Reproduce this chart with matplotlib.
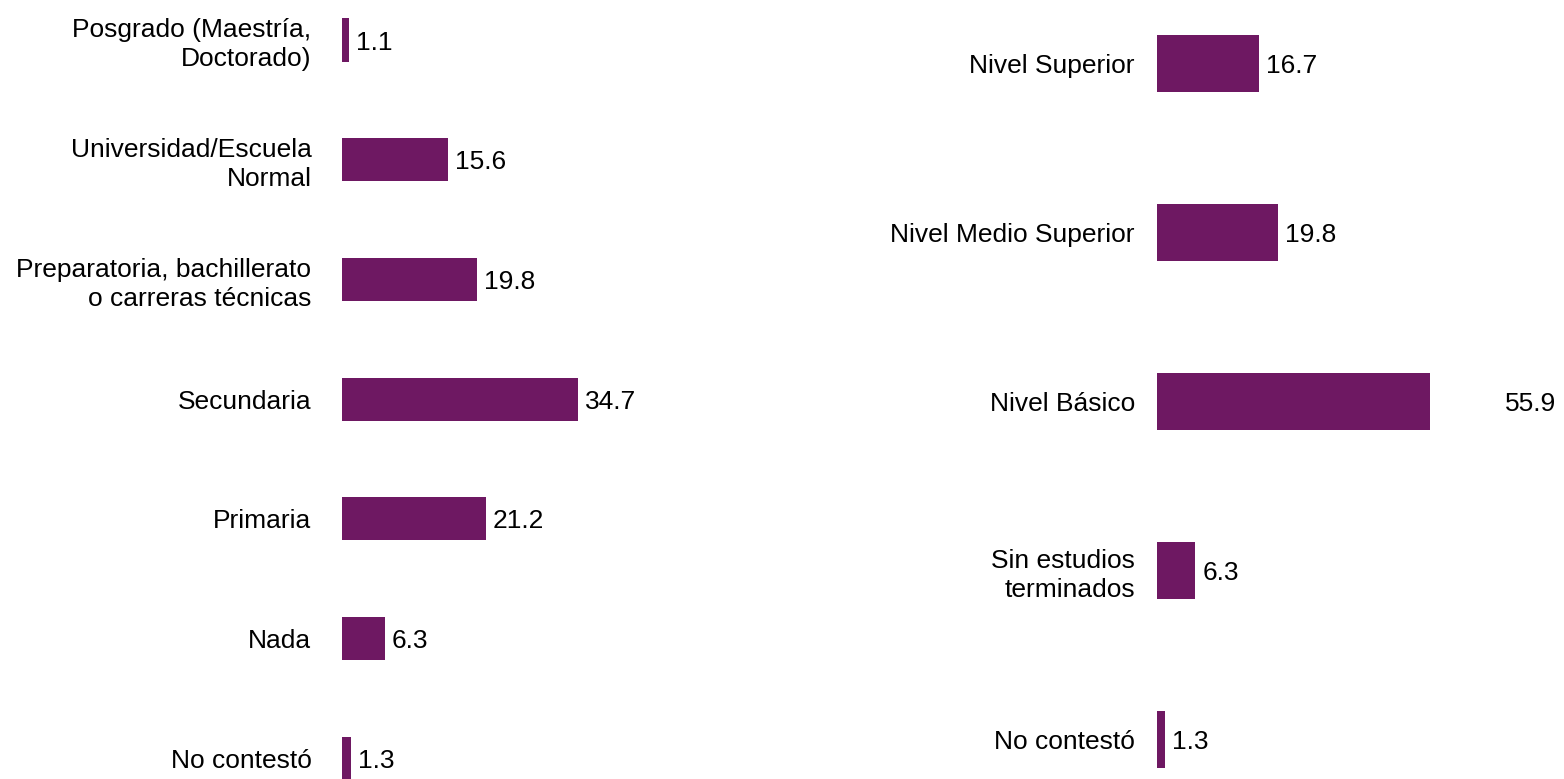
import matplotlib
matplotlib.use("Agg")
import matplotlib.pyplot as plt

plt.rcParams['font.family'] = ['Liberation Sans', 'DejaVu Sans']

left_categories = ["Posgrado (Maestría,\nDoctorado)", "Universidad/Escuela\nNormal",
                   "Preparatoria, bachillerato\no carreras técnicas", "Secundaria",
                   "Primaria", "Nada", "No contestó"]
left_values = [1.1, 15.6, 19.8, 34.7, 21.2, 6.3, 1.3]

right_categories = ["Nivel Superior", "Nivel Medio Superior", "Nivel Básico",
                    "Sin estudios\nterminados", "No contestó"]
right_values = [16.7, 19.8, 55.9, 6.3, 1.3]

COLOR = "#6E1862"
W, H = 1564, 779
fig = plt.figure(figsize=(W / 100, H / 100), dpi=100)

FS = 19

# Left axes
lx0, lx1 = 342, 700
axL = fig.add_axes([lx0 / W, 0, (lx1 - lx0) / W, 1])
axL.barh(range(len(left_values)), left_values, height=0.36, color=COLOR)
axL.set_xlim(0, (lx1 - lx0) / 6.8)
axL.set_ylim((779 - 40) / 119.7, -40 / 119.7)
axL.set_yticks(range(len(left_categories)))
axL.set_yticklabels(left_categories, fontsize=FS, ha='right', linespacing=1.25)
axL.tick_params(axis='y', length=0, pad=22)
axL.set_xticks([])
for i, v in enumerate(left_values):
    axL.annotate(f"{v:.1f}", (v, i), xytext=(5, 0), textcoords='offset points',
                 va='center_baseline', ha='left', fontsize=FS, annotation_clip=False)

# Right axes
rx0, rx1 = 1157, 1430
axR = fig.add_axes([rx0 / W, 0, (rx1 - rx0) / W, 1])
axR.barh(range(len(right_values)), right_values, height=0.337, color=COLOR)
axR.set_xlim(0, (rx1 - rx0) / 6.1)
axR.set_ylim((779 - 63.5) / 169, -63.5 / 169)
axR.set_yticks(range(len(right_categories)))
axR.set_yticklabels(right_categories, fontsize=FS, ha='right', linespacing=1.25)
axR.tick_params(axis='y', length=0, pad=16)
axR.set_xticks([])
for i, v in enumerate(right_values):
    t = axR.annotate(f"{v:.1f}", (v, i), xytext=(5, 0), textcoords='offset points',
                     va='center_baseline', ha='left', fontsize=FS, annotation_clip=False)
    t.set_clip_on(False)

for ax in (axL, axR):
    for s in ax.spines.values():
        s.set_visible(False)
    ax.patch.set_alpha(0)

fig.savefig("out.png", dpi=100)
